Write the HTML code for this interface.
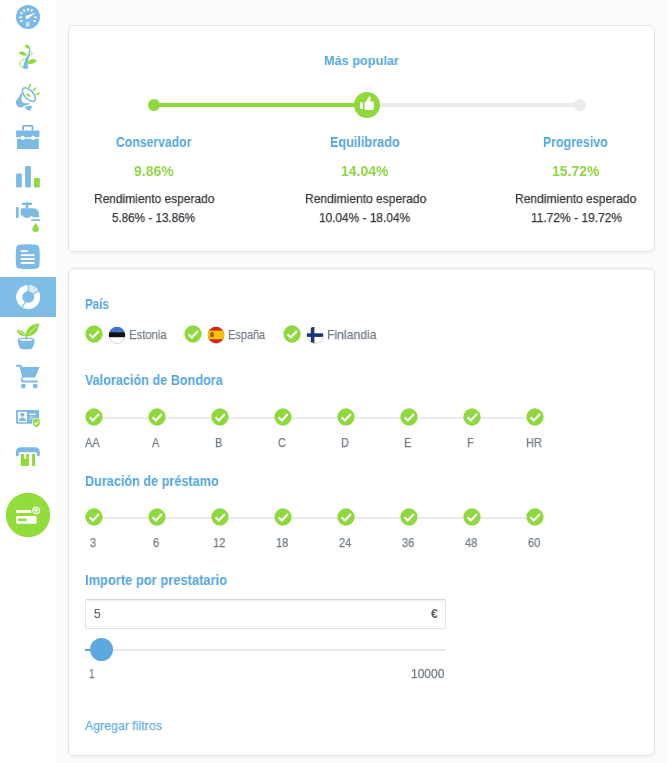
<!DOCTYPE html>
<html><head><meta charset="utf-8">
<style>
*{margin:0;padding:0;box-sizing:border-box}
html,body{width:667px;height:763px;overflow:hidden;background:#fcfcfc;font-family:"Liberation Sans",sans-serif}
.abs{position:absolute}
#side{position:absolute;left:0;top:0;width:56px;height:763px;background:#fff}
.card{position:absolute;left:68px;width:587px;background:#fff;border:1px solid #e5e5e7;border-radius:6px;box-shadow:0 1px 4px rgba(0,0,0,.06)}
.t{position:absolute;white-space:nowrap;line-height:1;transform-origin:0 0;will-change:transform}
</style></head><body>
<div id="side">
<svg class="abs" style="left:0;top:0" width="56" height="763" viewBox="0 0 56 763">
<!-- 1 speedometer -->
<g transform="translate(28,17)">
<circle r="12" fill="#7cb9e4"/>
<g stroke="#fff" stroke-width="1.7" stroke-linecap="butt">
<line x1="0" y1="-6.3" x2="0" y2="-8.8"/>
<line x1="-3.2" y1="-5.5" x2="-4.4" y2="-7.6"/>
<line x1="3.2" y1="-5.5" x2="4.4" y2="-7.6"/>
<line x1="-5.5" y1="-3.2" x2="-7.6" y2="-4.4"/>
<line x1="-6.3" y1="0.3" x2="-8.8" y2="0.3"/>
<line x1="-5.5" y1="3.4" x2="-7.6" y2="4.6"/>
<line x1="6.3" y1="0.3" x2="8.8" y2="0.3"/>
<line x1="5.5" y1="3.4" x2="7.6" y2="4.6"/>
</g>
<path d="M-1.6,-1.2 L8,-4.6 L-0.3,1.8 Z" fill="#fff"/>
<circle cx="-0.7" cy="0.2" r="1.7" fill="#fff"/>
<path d="M-1.7,5.2 H0.3 C1,5.2 1.4,5.7 1.4,6.3 C1.4,6.7 1.2,7 0.9,7.2 C1.3,7.4 1.6,7.8 1.6,8.2 C1.6,8.9 1.1,9.3 0.4,9.3 H-1.7 Z M-0.8,6 V6.9 H0.1 C0.4,6.9 0.5,6.7 0.5,6.45 C0.5,6.2 0.4,6 0.1,6 Z M-0.8,7.6 V8.5 H0.2 C0.5,8.5 0.7,8.3 0.7,8.05 C0.7,7.8 0.5,7.6 0.2,7.6 Z" fill="#fff" fill-rule="evenodd"/>
</g>
<!-- 2 plant -->
<g>
<path d="M23,68.8 C23.2,64 25.4,59.4 27.4,55.6 C28.6,53.2 29.2,50.6 28.9,47.6 L29.8,47.8 C30.6,50.6 30.4,53.6 29.4,56.4 C28.2,60 27.2,64 27.9,68.8 Z" fill="#7cb9e4"/>
<path d="M24.6,44.8 C26.8,44.4 30,45.2 30.2,48.4 C30.2,49 29.8,49.2 29.2,49 C26.6,48.4 25,47 24.6,44.8 Z" fill="#8fd93b"/>
<path d="M18.6,52.2 C21.4,50.6 25.6,51.4 26.6,55.2 C26.6,55.6 26.2,55.8 25.6,55.8 C22.4,55.8 19.8,54.4 18.6,52.2 Z" fill="#8fd93b"/>
<path d="M36.8,60.4 C34.2,58.2 29.6,58.6 27.6,62.8 C27.4,63.4 27.8,63.8 28.4,63.8 C32.2,64.4 35.4,63 36.8,60.4 Z" fill="#8fd93b"/>
<path d="M26.6,58.6 C23.2,58.8 19.4,61 19.8,64.8 C20.2,66.4 21.6,67.2 23,67.4" fill="none" stroke="#8fd93b" stroke-width="0.9"/>
<path d="M30.2,51 C32.6,52 32.8,54.6 30,56" fill="none" stroke="#8fd93b" stroke-width="0.9"/>
</g>
<!-- 3 megaphone -->
<g>
<path d="M16.4,100.4 C18,98.6 19.6,96 21,93 L22.6,94.2 C21.4,97.4 21,100 22.2,101.8 C23.6,103.4 26.2,103.6 29,103 L29.6,104.2 C27,104.6 24.6,105.6 22.6,106.9 C21,107.8 19.2,107.4 17.8,106.2 C16.2,104.8 15.6,102.6 15.9,101.2 Z" fill="#7cb9e4"/>
<path d="M25,107.2 C26,106.4 27,106 28,106 C29.2,106 30.6,106 32,105.8 C31.8,107.8 31,109.8 29.6,110.5 C27.8,110.8 26,109.2 25,107.2 Z" fill="#7cb9e4"/>
<ellipse cx="28.9" cy="94.6" rx="4.3" ry="8.4" transform="rotate(-43 28.9 94.6)" fill="#fff" stroke="#7cb9e4" stroke-width="1.6"/>
<path d="M27.4,94.4 L29.6,96" stroke="#8fd93b" stroke-width="2" stroke-linecap="round"/>
<g stroke="#8fd93b" stroke-width="1.7" stroke-linecap="round">
<line x1="29.2" y1="87.2" x2="30.3" y2="84.6"/>
<line x1="33.6" y1="90.2" x2="35.3" y2="88.2"/>
<line x1="36.6" y1="94.4" x2="39" y2="93.3"/>
</g>
</g>
<!-- 4 briefcase -->
<g fill="#7cb9e4">
<path d="M22.2,130.4 V126.6 C22.2,125.6 22.9,125 23.9,125 H31.7 C32.7,125 33.4,125.6 33.4,126.6 V130.4 H31.6 V126.8 H24 V130.4 Z"/>
<path d="M16.1,130.6 H39.4 V137.2 H34.9 A1.9,1.9 0 0 0 31.2,137.2 H24.5 A1.9,1.9 0 0 0 20.8,137.2 H16.1 Z"/>
<path d="M17,138.7 H20.9 A1.9,1.9 0 0 0 24.5,138.7 H31.3 A1.9,1.9 0 0 0 34.9,138.7 H38.8 V149.1 H17 Z"/>
</g>
<!-- 5 bars -->
<g>
<rect x="16.1" y="173.6" width="5.7" height="14" rx="1" fill="#7cb9e4"/>
<rect x="25.1" y="166.1" width="5.8" height="21.5" rx="1" fill="#7cb9e4"/>
<rect x="34" y="178" width="5.8" height="9.6" rx="1" fill="#8fd93b"/>
</g>
<!-- 6 faucet -->
<g fill="#7cb9e4">
<rect x="21.8" y="202.8" width="10.5" height="2.1" rx="1"/>
<rect x="25.9" y="202.1" width="2.3" height="2"/>
<path d="M25.9,204.6 H28.2 V207 C28.2,207.6 28.8,208 29.4,208.2 H24.7 C25.3,208 25.9,207.6 25.9,207 Z"/>
<path d="M16,207.1 H17.6 C18.2,207.1 18.7,207.6 18.7,208.2 V217 C18.7,217.6 18.2,218.1 17.6,218.1 H16 Z"/>
<path d="M20.7,209.4 C20.7,208.8 21.1,208.3 21.8,208.3 H33.2 C36.6,208.3 39.1,211 39.1,214.4 V217.3 H32.4 V216.2 C32.4,215.8 32.1,215.5 31.6,215.5 C30.8,217 29.1,218 27,218 C24.9,218 23.2,217 22.4,215.5 H20.7 Z"/>
<rect x="31.2" y="219.2" width="8.7" height="1.9" rx="0.4"/>
</g>
<path d="M35.7,223 C36.6,225 39,227.2 39,229.3 C39,230.9 37.6,231.9 35.7,231.9 C33.8,231.9 32.3,230.9 32.3,229.3 C32.3,227.2 34.8,225 35.7,223 Z" fill="#8fd93b"/>
<!-- 7 document -->
<path d="M19,244.9 C23.5,244.1 32,244.1 36.5,244.9 C38.4,245.2 39.2,246.2 39.3,248 C39.9,253 39.9,260.4 39.3,265.4 C39.2,267.2 38.4,268.2 36.5,268.5 C32,269.3 23.5,269.3 19,268.5 C17.1,268.2 16.3,267.2 16.2,265.4 C15.6,260.4 15.6,253 16.2,248 C16.3,246.2 17.1,245.2 19,244.9 Z" fill="#7cb9e4"/>
<g fill="#fff">
<rect x="20.9" y="250.2" width="6.9" height="1.9"/>
<rect x="20.9" y="254.2" width="13.7" height="1.9"/>
<rect x="20.9" y="258.1" width="13.7" height="1.9"/>
<rect x="20.9" y="262" width="13.7" height="1.9"/>
</g>
<!-- 8 active donut -->
<rect x="0" y="277" width="56" height="40" fill="#80bde6"/>
<g transform="translate(28.2,297)">
<path d="M0,-12 A12,12 0 1 1 -12,0 A12,12 0 0 1 0,-12 Z M0,-5.9 A5.9,5.9 0 1 0 0.01,-5.9 Z" fill="#fff" fill-rule="evenodd"/>
<path d="M0,-12 A12,12 0 0 1 10.4,-6 L5.1,-2.95 A5.9,5.9 0 0 0 0,-5.9 Z" fill="#d9ebf8"/>
<g stroke="#80bde6" stroke-width="1.3">
<line x1="0" y1="-5" x2="0" y2="-13"/>
<line x1="4.3" y1="-2.5" x2="11.3" y2="-6.5"/>
<line x1="-2.5" y1="4.3" x2="-6.5" y2="11.3"/>
</g>
</g>
<!-- 9 plant pot -->
<g>
<path d="M17.8,339.8 C17.8,338.4 21.4,337.6 26.2,337.6 C31,337.6 34.6,338.4 34.6,339.8 C34.6,343.2 33.6,346 32.4,348 C31.6,349.2 29.6,349.4 26.2,349.4 C22.8,349.4 20.8,349.2 20,348 C18.8,346 17.8,343.2 17.8,339.8 Z" fill="#7cb9e4"/>
<ellipse cx="26.2" cy="339.8" rx="6.6" ry="1.05" fill="#fff"/>
<path d="M25.4,333.6 L27.2,333.6 L27,339.8 L25.6,339.8 Z" fill="#8fd93b"/>
<path d="M25.8,336.4 C25.6,332 27.4,327.6 31.6,325.4 C34,324.1 37,323.6 39.4,323.5 C38.6,325.8 38.2,328.4 37.2,330.6 C35.6,334.2 32,336 27.6,336.2 Z" fill="#8fd93b"/>
<path d="M28.6,334.6 C31,331.6 33.6,328.6 36.6,326.4" fill="none" stroke="#fff" stroke-width="0.7"/>
<path d="M25.6,336.2 C25.2,333.4 23.4,331 20.4,330.4 C19,330.2 17.6,330.2 16.6,330.3 C17.6,332.8 19.4,335 22.4,335.8 C23.6,336.1 24.8,336.2 25.6,336.2 Z" fill="#8fd93b"/>
<path d="M19.2,331.6 C21.4,332.6 23.2,333.8 24.6,335" fill="none" stroke="#fff" stroke-width="0.6"/>
</g>
<!-- 10 cart -->
<g fill="#7cb9e4">
<path d="M16.1,364.8 H20.4 C21.2,364.8 21.6,365.4 21.8,366.4 L22,367 H39.7 L35,377.6 H23.6 L22.6,379.2 C22.4,379.8 22.6,380.4 23.4,380.4 H38 V382.4 H23 C21.2,382.4 20.4,381 21,379.2 L22.2,377 L19.6,366.8 H16.1 Z"/>
<circle cx="23.3" cy="386.1" r="2.4"/>
<circle cx="35.2" cy="386.1" r="2.4"/>
</g>
<!-- 11 id card -->
<g>
<rect x="16.1" y="410" width="23" height="13.7" rx="0.8" fill="#7cb9e4"/>
<rect x="17.9" y="411.8" width="9" height="10.4" fill="#fff"/>
<circle cx="22.4" cy="414.8" r="2" fill="#7cb9e4"/>
<path d="M18.8,420.9 C19.2,418.6 20.6,417.6 22.4,417.6 C24.2,417.6 25.6,418.6 26,420.9 Z" fill="#7cb9e4"/>
<rect x="29.3" y="413.6" width="6.2" height="1.3" fill="#fff"/>
<rect x="29.3" y="416.6" width="5" height="0.9" fill="#cfe4f4"/>
<rect x="29.3" y="418.6" width="3.4" height="0.9" fill="#cfe4f4"/>
<path d="M32.6,419.6 L36.4,418.2 L40.2,419.6 V423 C40.2,425 38.4,426.8 36.4,427.7 C34.4,426.8 32.6,425 32.6,423 Z" fill="#8fd93b" stroke="#fff" stroke-width="0.8"/>
<polyline points="34.6,423 36,424.4 38.4,421.4" fill="none" stroke="#fff" stroke-width="1.1"/>
</g>
<!-- 12 atm -->
<g>
<path d="M16,455 V452 C16,449.2 18,447.2 20.8,447.2 H35 C37.8,447.2 39.8,449.2 39.8,452 V455 C39.8,455.9 39.2,456.4 38.4,456.4 C37.6,456.4 37,455.9 37,455 V453.8 C37,452.9 36.4,452.2 35.4,452.2 H20.4 C19.4,452.2 18.8,452.9 18.8,453.8 V455 C18.8,455.9 18.2,456.4 17.4,456.4 C16.6,456.4 16,455.9 16,455 Z" fill="#7cb9e4"/>
<path d="M20.9,453.9 H24.1 V458.7 H26.2 V453.9 H28.9 V466 H20.9 Z" fill="#8fd93b"/>
<rect x="32.1" y="453.9" width="2.9" height="12.1" fill="#8fd93b"/>
</g>
<!-- 13 green circle -->
<circle cx="28" cy="515" r="22.2" fill="#92dc3c"/>
<g fill="#fff">
<path d="M17.2,510.1 H31.4 V513 H16.1 V511.2 C16.1,510.6 16.6,510.1 17.2,510.1 Z"/>
<path d="M17.2,516.1 H35.4 C36,516.1 36.5,516.6 36.5,517.2 V522.7 C36.5,523.3 36,523.8 35.4,523.8 H17.2 C16.6,523.8 16.1,523.3 16.1,522.7 V517.2 C16.1,516.6 16.6,516.1 17.2,516.1 Z"/>
</g>
<rect x="18" y="518.5" width="8.6" height="2.6" fill="#92dc3c"/>
<circle cx="36.2" cy="510.3" r="4.6" fill="#92dc3c"/>
<circle cx="36.2" cy="510.3" r="3.9" fill="#fff"/>
<circle cx="36.2" cy="510.3" r="2.75" fill="#92dc3c"/>
<path d="M35.5,508.1 H36.9 V509.6 H38.4 V511 H36.9 V512.5 H35.5 V511 H34 V509.6 H35.5 Z" fill="#fff"/>
</svg>

</div>

<div class="card" style="top:25px;height:227px"></div>
<div class="card" style="top:268px;height:488px"></div>

<!-- slider card1 -->
<div class="abs" style="left:154px;top:103px;width:213px;height:4px;background:#8fd93b"></div>
<div class="abs" style="left:367px;top:103px;width:213px;height:4px;background:#ebebeb"></div>
<div class="abs" style="left:148px;top:99px;width:12px;height:12px;border-radius:50%;background:#8fd93b"></div>
<div class="abs" style="left:574px;top:99px;width:12px;height:12px;border-radius:50%;background:#ebebeb"></div>
<svg class="abs" style="left:354px;top:91.5px" width="26" height="26" viewBox="0 0 26 26">
<circle cx="13" cy="13" r="13" fill="#8fd93b"/>
<rect x="6" y="10.3" width="2.8" height="6.7" rx="0.3" fill="#fff"/>
<path d="M10.5,10.6 C11.8,9.8 13,8.4 13.9,6.2 C14.3,5 14.8,4.6 15.4,4.6 C16.4,4.6 16.8,5.6 16.7,6.8 C16.6,8 16.3,9 15.9,9.6 L19,9.6 C19.6,9.6 19.9,10 19.9,10.6 L19.8,16.8 C19.6,17.6 19,18 18.4,18 L11.6,18 C11,18 10.5,17.6 10.5,17 Z" fill="#fff"/>
</svg>

<!-- input -->
<div class="abs" style="left:85px;top:599px;width:361px;height:30px;border:1px solid #e3e3e3;border-top-color:#d6d6d6;border-radius:2px;background:#fff;box-shadow:inset 0 1px 1px rgba(0,0,0,.07)"></div>
<!-- range -->
<div class="abs" style="left:85px;top:649px;width:361px;height:2px;background:#ebebeb"></div>
<div class="abs" style="left:85px;top:649px;width:17px;height:2px;background:#5ba9e1"></div>
<div class="abs" style="left:90.2px;top:638.2px;width:23px;height:23px;border-radius:50%;background:#5ba9e1"></div>

<svg class="abs" style="left:107.7px;top:326.2px" width="18" height="19" viewBox="0 0 18 19">
<defs><clipPath id="fc"><circle cx="9" cy="9" r="8.2"/></clipPath></defs>
<circle cx="9.1" cy="9.6" r="8.5" fill="#999" opacity=".45"/>
<g clip-path="url(#fc)"><rect x="0" y="0" width="18" height="6.2" fill="#3f75c4"/><rect x="0" y="6.2" width="18" height="5.2" fill="#111"/><rect x="0" y="11.4" width="18" height="7" fill="#fff"/></g>
</svg>
<svg class="abs" style="left:207px;top:326.2px" width="18" height="19" viewBox="0 0 18 19">
<circle cx="9.1" cy="9.6" r="8.5" fill="#999" opacity=".45"/>
<g clip-path="url(#fc)"><rect x="0" y="0" width="18" height="18" fill="#d4261c"/><rect x="0" y="4.6" width="18" height="8.6" fill="#f6c400"/><rect x="3.3" y="6.2" width="3.4" height="5" rx="1" fill="#b0501c"/></g>
</svg>
<svg class="abs" style="left:305.6px;top:326.2px" width="18" height="19" viewBox="0 0 18 19">
<circle cx="9.1" cy="9.6" r="8.5" fill="#999" opacity=".45"/>
<g clip-path="url(#fc)"><rect x="0" y="0" width="18" height="18" fill="#fff"/><rect x="0" y="7.3" width="18" height="3.6" fill="#1c3578"/><rect x="4.8" y="0" width="3.6" height="18" fill="#1c3578"/></g>
</svg>

<svg class="abs" style="left:84.5px;top:325.4px" width="18" height="18" viewBox="0 0 18 18"><circle cx="9" cy="9" r="8.65" fill="#8fd83d"/><polyline points="4.6,9.3 7.8,12.4 13.9,6" fill="none" stroke="#fff" stroke-width="2.1"/></svg>
<svg class="abs" style="left:184.0px;top:325.4px" width="18" height="18" viewBox="0 0 18 18"><circle cx="9" cy="9" r="8.65" fill="#8fd83d"/><polyline points="4.6,9.3 7.8,12.4 13.9,6" fill="none" stroke="#fff" stroke-width="2.1"/></svg>
<svg class="abs" style="left:282.5px;top:325.4px" width="18" height="18" viewBox="0 0 18 18"><circle cx="9" cy="9" r="8.65" fill="#8fd83d"/><polyline points="4.6,9.3 7.8,12.4 13.9,6" fill="none" stroke="#fff" stroke-width="2.1"/></svg>
<div class="abs" style="left:93px;top:416.6px;width:442px;height:2px;background:#ebebeb"></div>
<svg class="abs" style="left:84.5px;top:407.8px" width="18" height="18" viewBox="0 0 18 18"><circle cx="9" cy="9" r="8.65" fill="#8fd83d"/><polyline points="4.6,9.3 7.8,12.4 13.9,6" fill="none" stroke="#fff" stroke-width="2.1"/></svg>
<svg class="abs" style="left:147.5px;top:407.8px" width="18" height="18" viewBox="0 0 18 18"><circle cx="9" cy="9" r="8.65" fill="#8fd83d"/><polyline points="4.6,9.3 7.8,12.4 13.9,6" fill="none" stroke="#fff" stroke-width="2.1"/></svg>
<svg class="abs" style="left:210.5px;top:407.8px" width="18" height="18" viewBox="0 0 18 18"><circle cx="9" cy="9" r="8.65" fill="#8fd83d"/><polyline points="4.6,9.3 7.8,12.4 13.9,6" fill="none" stroke="#fff" stroke-width="2.1"/></svg>
<svg class="abs" style="left:273.5px;top:407.8px" width="18" height="18" viewBox="0 0 18 18"><circle cx="9" cy="9" r="8.65" fill="#8fd83d"/><polyline points="4.6,9.3 7.8,12.4 13.9,6" fill="none" stroke="#fff" stroke-width="2.1"/></svg>
<svg class="abs" style="left:336.5px;top:407.8px" width="18" height="18" viewBox="0 0 18 18"><circle cx="9" cy="9" r="8.65" fill="#8fd83d"/><polyline points="4.6,9.3 7.8,12.4 13.9,6" fill="none" stroke="#fff" stroke-width="2.1"/></svg>
<svg class="abs" style="left:399.5px;top:407.8px" width="18" height="18" viewBox="0 0 18 18"><circle cx="9" cy="9" r="8.65" fill="#8fd83d"/><polyline points="4.6,9.3 7.8,12.4 13.9,6" fill="none" stroke="#fff" stroke-width="2.1"/></svg>
<svg class="abs" style="left:462.5px;top:407.8px" width="18" height="18" viewBox="0 0 18 18"><circle cx="9" cy="9" r="8.65" fill="#8fd83d"/><polyline points="4.6,9.3 7.8,12.4 13.9,6" fill="none" stroke="#fff" stroke-width="2.1"/></svg>
<svg class="abs" style="left:525.5px;top:407.8px" width="18" height="18" viewBox="0 0 18 18"><circle cx="9" cy="9" r="8.65" fill="#8fd83d"/><polyline points="4.6,9.3 7.8,12.4 13.9,6" fill="none" stroke="#fff" stroke-width="2.1"/></svg>
<div class="abs" style="left:93px;top:516.6px;width:442px;height:2px;background:#ebebeb"></div>
<svg class="abs" style="left:84.5px;top:507.8px" width="18" height="18" viewBox="0 0 18 18"><circle cx="9" cy="9" r="8.65" fill="#8fd83d"/><polyline points="4.6,9.3 7.8,12.4 13.9,6" fill="none" stroke="#fff" stroke-width="2.1"/></svg>
<svg class="abs" style="left:147.5px;top:507.8px" width="18" height="18" viewBox="0 0 18 18"><circle cx="9" cy="9" r="8.65" fill="#8fd83d"/><polyline points="4.6,9.3 7.8,12.4 13.9,6" fill="none" stroke="#fff" stroke-width="2.1"/></svg>
<svg class="abs" style="left:210.5px;top:507.8px" width="18" height="18" viewBox="0 0 18 18"><circle cx="9" cy="9" r="8.65" fill="#8fd83d"/><polyline points="4.6,9.3 7.8,12.4 13.9,6" fill="none" stroke="#fff" stroke-width="2.1"/></svg>
<svg class="abs" style="left:273.5px;top:507.8px" width="18" height="18" viewBox="0 0 18 18"><circle cx="9" cy="9" r="8.65" fill="#8fd83d"/><polyline points="4.6,9.3 7.8,12.4 13.9,6" fill="none" stroke="#fff" stroke-width="2.1"/></svg>
<svg class="abs" style="left:336.5px;top:507.8px" width="18" height="18" viewBox="0 0 18 18"><circle cx="9" cy="9" r="8.65" fill="#8fd83d"/><polyline points="4.6,9.3 7.8,12.4 13.9,6" fill="none" stroke="#fff" stroke-width="2.1"/></svg>
<svg class="abs" style="left:399.5px;top:507.8px" width="18" height="18" viewBox="0 0 18 18"><circle cx="9" cy="9" r="8.65" fill="#8fd83d"/><polyline points="4.6,9.3 7.8,12.4 13.9,6" fill="none" stroke="#fff" stroke-width="2.1"/></svg>
<svg class="abs" style="left:462.5px;top:507.8px" width="18" height="18" viewBox="0 0 18 18"><circle cx="9" cy="9" r="8.65" fill="#8fd83d"/><polyline points="4.6,9.3 7.8,12.4 13.9,6" fill="none" stroke="#fff" stroke-width="2.1"/></svg>
<svg class="abs" style="left:525.5px;top:507.8px" width="18" height="18" viewBox="0 0 18 18"><circle cx="9" cy="9" r="8.65" fill="#8fd83d"/><polyline points="4.6,9.3 7.8,12.4 13.9,6" fill="none" stroke="#fff" stroke-width="2.1"/></svg>
<div class="t" style="left:324.20px;top:54.20px;font-size:13px;font-weight:bold;color:#54a6e2;transform:scaleX(0.9798)">Más popular</div>
<div class="t" style="left:116.00px;top:135.00px;font-size:14px;font-weight:bold;color:#54a6e2;transform:scaleX(0.8743)">Conservador</div>
<div class="t" style="left:330.00px;top:135.30px;font-size:14px;font-weight:bold;color:#54a6e2;transform:scaleX(0.9052)">Equilibrado</div>
<div class="t" style="left:543.20px;top:135.20px;font-size:14px;font-weight:bold;color:#54a6e2;transform:scaleX(0.8859)">Progresivo</div>
<div class="t" style="left:134.00px;top:163.60px;font-size:14px;font-weight:bold;color:#90d745;transform:scaleX(0.9950)">9.86%</div>
<div class="t" style="left:341.30px;top:164.00px;font-size:14px;font-weight:bold;color:#90d745;transform:scaleX(0.9937)">14.04%</div>
<div class="t" style="left:551.80px;top:163.80px;font-size:14px;font-weight:bold;color:#90d745;transform:scaleX(1.0021)">15.72%</div>
<div class="t" style="left:93.50px;top:192.40px;font-size:13px;color:#33373c;-webkit-text-stroke:0.25px #33373c;transform:scaleX(0.9213)">Rendimiento esperado</div>
<div class="t" style="left:304.60px;top:192.40px;font-size:13px;color:#33373c;-webkit-text-stroke:0.25px #33373c;transform:scaleX(0.9281)">Rendimiento esperado</div>
<div class="t" style="left:515.10px;top:192.40px;font-size:13px;color:#33373c;-webkit-text-stroke:0.25px #33373c;transform:scaleX(0.9281)">Rendimiento esperado</div>
<div class="t" style="left:112.40px;top:211.20px;font-size:13px;color:#33373c;-webkit-text-stroke:0.25px #33373c;transform:scaleX(0.8973)">5.86% - 13.86%</div>
<div class="t" style="left:319.20px;top:211.20px;font-size:13px;color:#33373c;-webkit-text-stroke:0.25px #33373c;transform:scaleX(0.9133)">10.04% - 18.04%</div>
<div class="t" style="left:530.90px;top:211.20px;font-size:13px;color:#33373c;-webkit-text-stroke:0.25px #33373c;transform:scaleX(0.9215)">11.72% - 19.72%</div>
<div class="t" style="left:85.30px;top:296.50px;font-size:14px;font-weight:bold;color:#54a6e2;transform:scaleX(0.8333)">País</div>
<div class="t" style="left:85.30px;top:373.40px;font-size:14px;font-weight:bold;color:#54a6e2;transform:scaleX(0.9037)">Valoración de Bondora</div>
<div class="t" style="left:85.30px;top:474.30px;font-size:14px;font-weight:bold;color:#54a6e2;transform:scaleX(0.9053)">Duración de préstamo</div>
<div class="t" style="left:85.30px;top:572.60px;font-size:14px;font-weight:bold;color:#54a6e2;transform:scaleX(0.9231)">Importe por prestatario</div>
<div class="t" style="left:129.20px;top:328.20px;font-size:13px;color:#727c85;-webkit-text-stroke:0.25px #727c85;transform:scaleX(0.8664)">Estonia</div>
<div class="t" style="left:228.30px;top:328.10px;font-size:13px;color:#727c85;-webkit-text-stroke:0.25px #727c85;transform:scaleX(0.8435)">España</div>
<div class="t" style="left:326.50px;top:328.00px;font-size:13px;color:#727c85;-webkit-text-stroke:0.25px #727c85;transform:scaleX(0.9384)">Finlandia</div>
<div class="t" style="left:85.34px;top:436.80px;font-size:12px;color:#727c85;-webkit-text-stroke:0.25px #727c85;transform:scaleX(0.9200)">AA</div>
<div class="t" style="left:152.02px;top:436.80px;font-size:12px;color:#727c85;-webkit-text-stroke:0.25px #727c85;transform:scaleX(0.9200)">A</div>
<div class="t" style="left:215.02px;top:436.80px;font-size:12px;color:#727c85;-webkit-text-stroke:0.25px #727c85;transform:scaleX(0.9200)">B</div>
<div class="t" style="left:277.72px;top:436.80px;font-size:12px;color:#727c85;-webkit-text-stroke:0.25px #727c85;transform:scaleX(0.9200)">C</div>
<div class="t" style="left:340.72px;top:436.80px;font-size:12px;color:#727c85;-webkit-text-stroke:0.25px #727c85;transform:scaleX(0.9200)">D</div>
<div class="t" style="left:404.02px;top:436.80px;font-size:12px;color:#727c85;-webkit-text-stroke:0.25px #727c85;transform:scaleX(0.9200)">E</div>
<div class="t" style="left:467.32px;top:436.80px;font-size:12px;color:#727c85;-webkit-text-stroke:0.25px #727c85;transform:scaleX(0.9200)">F</div>
<div class="t" style="left:525.72px;top:436.80px;font-size:12px;color:#727c85;-webkit-text-stroke:0.25px #727c85;transform:scaleX(0.9200)">HR</div>
<div class="t" style="left:89.64px;top:537.20px;font-size:12px;color:#727c85;-webkit-text-stroke:0.25px #727c85;transform:scaleX(0.9200)">3</div>
<div class="t" style="left:152.64px;top:537.20px;font-size:12px;color:#727c85;-webkit-text-stroke:0.25px #727c85;transform:scaleX(0.9200)">6</div>
<div class="t" style="left:212.56px;top:537.20px;font-size:12px;color:#727c85;-webkit-text-stroke:0.25px #727c85;transform:scaleX(0.9200)">12</div>
<div class="t" style="left:275.56px;top:537.20px;font-size:12px;color:#727c85;-webkit-text-stroke:0.25px #727c85;transform:scaleX(0.9200)">18</div>
<div class="t" style="left:338.56px;top:537.20px;font-size:12px;color:#727c85;-webkit-text-stroke:0.25px #727c85;transform:scaleX(0.9200)">24</div>
<div class="t" style="left:401.56px;top:537.20px;font-size:12px;color:#727c85;-webkit-text-stroke:0.25px #727c85;transform:scaleX(0.9200)">36</div>
<div class="t" style="left:464.56px;top:537.20px;font-size:12px;color:#727c85;-webkit-text-stroke:0.25px #727c85;transform:scaleX(0.9200)">48</div>
<div class="t" style="left:527.56px;top:537.20px;font-size:12px;color:#727c85;-webkit-text-stroke:0.25px #727c85;transform:scaleX(0.9200)">60</div>
<div class="t" style="left:94.40px;top:608.20px;font-size:12px;color:#656c73;-webkit-text-stroke:0.25px #656c73;transform:scaleX(1.0000)">5</div>
<div class="t" style="left:430.60px;top:608.20px;font-size:12px;font-weight:bold;color:#5b636b;transform:scaleX(1.0226)">€</div>
<div class="t" style="left:88.50px;top:667.50px;font-size:12px;color:#727c85;-webkit-text-stroke:0.25px #727c85;transform:scaleX(0.8271)">1</div>
<div class="t" style="left:411.00px;top:667.50px;font-size:12px;color:#727c85;-webkit-text-stroke:0.25px #727c85;transform:scaleX(1.0015)">10000</div>
<div class="t" style="left:85.20px;top:719.20px;font-size:13px;color:#6aaee3;-webkit-text-stroke:0.25px #6aaee3;transform:scaleX(0.9518)">Agregar filtros</div>
</body></html>
